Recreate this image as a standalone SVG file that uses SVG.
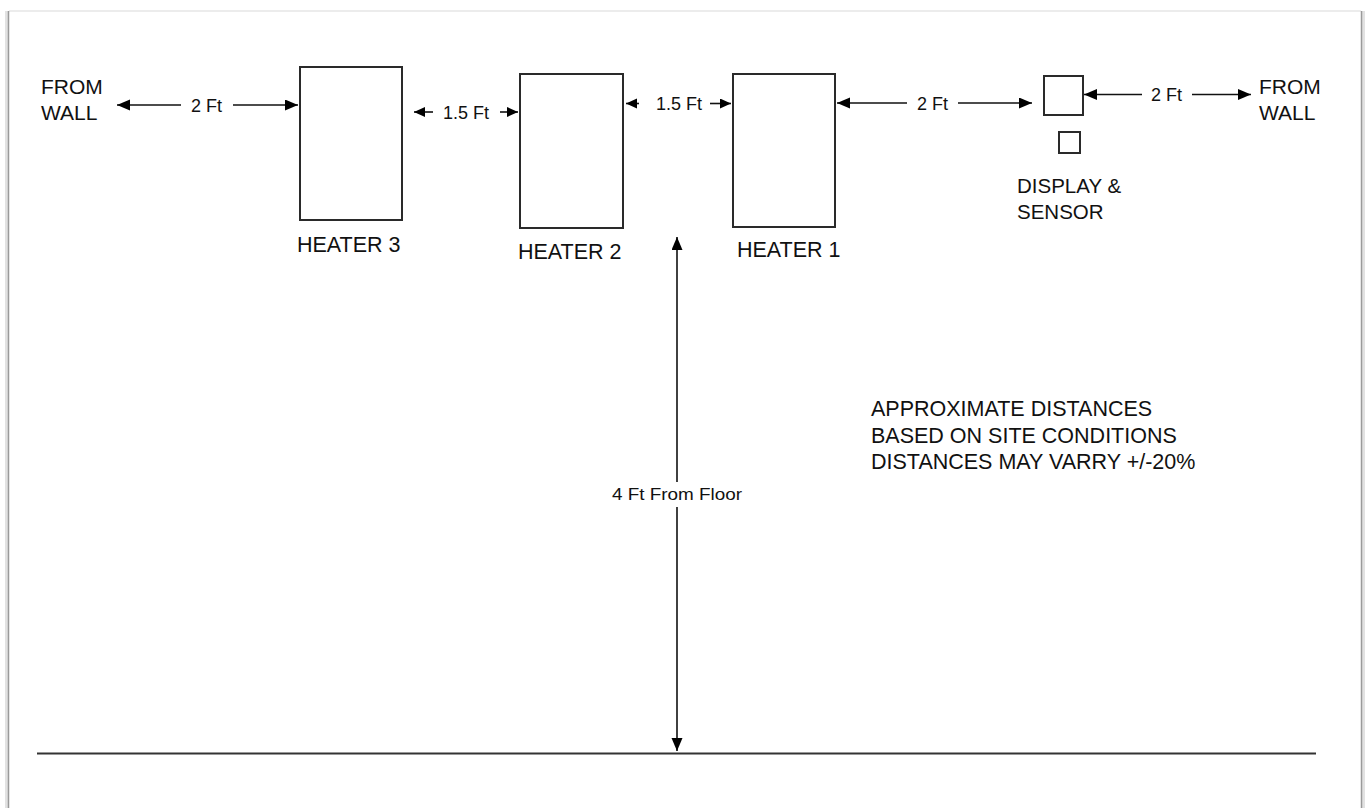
<svg xmlns="http://www.w3.org/2000/svg" width="1367" height="808" viewBox="0 0 1367 808">
<defs>
<style>
.box{fill:#fff;stroke:#2a2a2a;stroke-width:2}
.lbl{font-family:"Liberation Sans",Arial,sans-serif;font-size:21px;fill:#111}
.dim{font-family:"Liberation Sans",Arial,sans-serif;font-size:18px;fill:#111}
.ln{stroke:#111;stroke-width:1.6;fill:none}
</style>
<marker id="ah" markerUnits="userSpaceOnUse" markerWidth="14" markerHeight="12" refX="13" refY="5.5" orient="auto-start-reverse">
<path d="M0,0 L13,5.5 L0,11 z" fill="#000"/>
</marker>
<marker id="as" markerUnits="userSpaceOnUse" markerWidth="12" markerHeight="11" refX="11" refY="5" orient="auto-start-reverse">
<path d="M0,0 L11,5 L0,10 z" fill="#000"/>
</marker>
</defs>
<rect width="1367" height="808" fill="#fff"/>
<g id="frame">
<line x1="9" y1="11" x2="1361" y2="11" stroke="#ececec" stroke-width="2"/>
<line x1="7" y1="11" x2="7" y2="808" stroke="#e2e2e2" stroke-width="4"/>
<line x1="8.5" y1="11" x2="8.5" y2="808" stroke="#9a9a9a" stroke-width="1.5"/>
<line x1="1363" y1="11" x2="1363" y2="808" stroke="#e2e2e2" stroke-width="4"/>
<line x1="1361.5" y1="11" x2="1361.5" y2="808" stroke="#9a9a9a" stroke-width="1.5"/>
</g>
<g id="floor">
<line x1="37" y1="753.5" x2="1316" y2="753.5" stroke="#333" stroke-width="2"/>
</g>
<g id="wall-left">
<text class="lbl" x="41" y="94">FROM</text>
<text class="lbl" x="41" y="120">WALL</text>
</g>
<g id="wall-right">
<text class="lbl" x="1259" y="94">FROM</text>
<text class="lbl" x="1259" y="120">WALL</text>
</g>
<g id="heater3">
<rect class="box" x="300" y="67" width="102" height="153"/>
<text class="lbl" x="297" y="252" style="font-size:21.5px">HEATER 3</text>
</g>
<g id="heater2">
<rect class="box" x="520" y="74" width="103" height="154"/>
<text class="lbl" x="518" y="259" style="font-size:21.5px">HEATER 2</text>
</g>
<g id="heater1">
<rect class="box" x="733" y="74" width="102" height="153"/>
<text class="lbl" x="737" y="257" style="font-size:21.5px">HEATER 1</text>
</g>
<g id="display-sensor">
<rect class="box" x="1044" y="76" width="39" height="39"/>
<rect class="box" x="1059" y="132" width="21" height="21"/>
<text class="lbl" x="1017" y="193" style="font-size:20.5px">DISPLAY &amp;</text>
<text class="lbl" x="1017" y="219" style="font-size:20.5px">SENSOR</text>
</g>
<g id="note">
<text class="lbl" x="871" y="416" style="font-size:21.5px">APPROXIMATE DISTANCES</text>
<text class="lbl" x="871" y="442.5" style="font-size:21.5px">BASED ON SITE CONDITIONS</text>
<text class="lbl" x="871" y="469" style="font-size:21.5px">DISTANCES MAY VARRY +/-20%</text>
</g>
<g id="connectors">
<line class="ln" x1="181" y1="105" x2="117" y2="105" marker-end="url(#ah)"/>
<text class="dim" x="191" y="111.5">2 Ft</text>
<line class="ln" x1="233" y1="105" x2="298" y2="105" marker-end="url(#ah)"/>

<line class="ln" x1="433" y1="112" x2="414" y2="112" marker-end="url(#as)"/>
<text class="dim" x="443" y="118.5">1.5 Ft</text>
<line class="ln" x1="500" y1="112" x2="518" y2="112" marker-end="url(#as)"/>

<line class="ln" x1="639" y1="103.5" x2="626" y2="103.5" marker-end="url(#as)"/>
<text class="dim" x="656" y="110">1.5 Ft</text>
<line class="ln" x1="710" y1="103.5" x2="731" y2="103.5" marker-end="url(#as)"/>

<line class="ln" x1="907" y1="103" x2="837" y2="103" marker-end="url(#ah)"/>
<text class="dim" x="917" y="109.5">2 Ft</text>
<line class="ln" x1="958" y1="103" x2="1032" y2="103" marker-end="url(#ah)"/>

<line class="ln" x1="1142" y1="94.5" x2="1084" y2="94.5" marker-end="url(#ah)"/>
<text class="dim" x="1151" y="101">2 Ft</text>
<line class="ln" x1="1192" y1="94.5" x2="1251" y2="94.5" marker-end="url(#ah)"/>

<line class="ln" x1="677" y1="482" x2="677" y2="237" marker-end="url(#ah)"/>
<text class="dim" x="612" y="500" style="font-size:16px" textLength="130" lengthAdjust="spacingAndGlyphs">4 Ft From Floor</text>
<line class="ln" x1="677" y1="507" x2="677" y2="751" marker-end="url(#ah)"/>
</g>
</svg>
